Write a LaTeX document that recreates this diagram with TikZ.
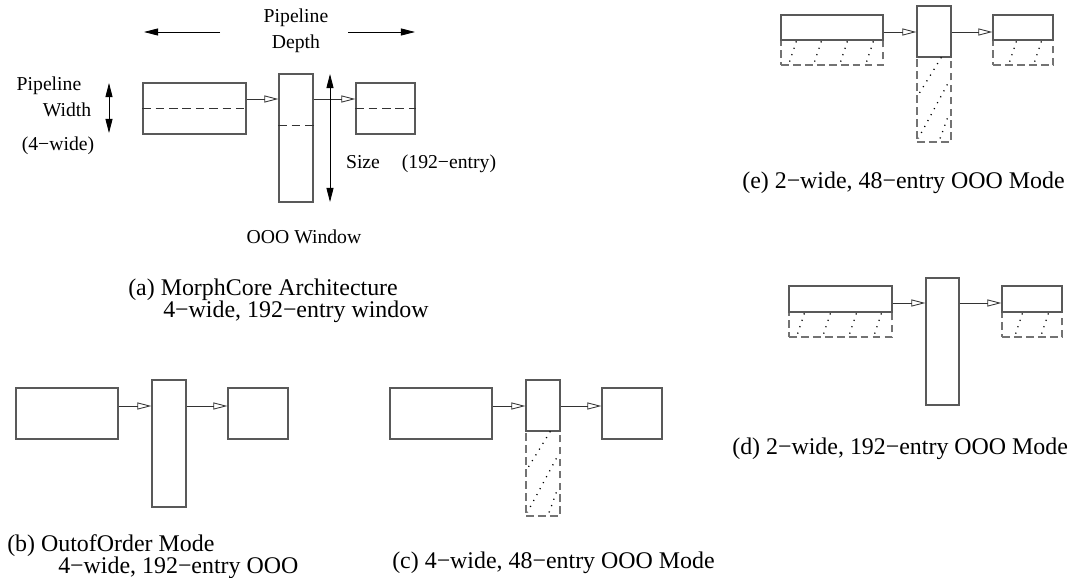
\documentclass[tikz,border=0pt]{standalone}
\usepackage{fontspec}
\setmainfont{Liberation Serif}
\usetikzlibrary{arrows.meta, positioning, fit, calc}

% dotted hatching inside the unused part of a window / a stage
\newcommand{\winhatch}[1]{%
  \begin{scope}[shift={(#1.north west)}]
    \draw[hatch] (25,1) -- (1,40);
    \draw[hatch] (31,28) -- (2,82);
    \draw[hatch] (31,62) -- (23,84);
  \end{scope}}
\newcommand{\barhatch}[2]{%
  \begin{scope}[shift={(#1.north west)}]
    \foreach \t in {#2} \draw[hatch] (\t,2) -- (\t-7,23);
  \end{scope}}

\begin{document}
\begin{tikzpicture}[x=0.025cm, y=-0.025cm,
    stage/.style={draw=black!65, line width=0.9pt, inner sep=0pt},
    ghost/.style={draw=black!55, line width=0.9pt, inner sep=0pt, dash pattern=on 5.5pt off 3pt},
    hatch/.style={black, line width=0.9pt, dash pattern=on 0.8pt off 4pt},
    split/.style={black!80, line width=0.7pt, dash pattern=on 6pt off 3.5pt},
    link/.style={-{Triangle[open, length=10pt, width=5pt]}, line width=0.6pt, black!80},
    dimone/.style={-{Triangle[length=10pt, width=5pt]}, line width=0.6pt},
    dimtwo/.style={{Triangle[length=10pt, width=5pt]}-{Triangle[length=10pt, width=5pt]}, line width=0.6pt},
    lbl/.style={font=\fontsize{14}{16}\selectfont, inner sep=0pt, anchor=base},
    captxt/.style={font=\fontsize{17}{20}\selectfont, inner sep=0pt, anchor=base west}
  ]
  \useasboundingbox (0,0) rectangle (1072,578);

  % (a) MorphCore
  \node[lbl] (depth1) at (296,23) {Pipeline};
  \node[lbl] (depth2) at (296,49) {Depth};
  \coordinate (dls) at (220,32);
  \coordinate (dle) at (144,32);
  \coordinate (drs) at (348,32);
  \coordinate (dre) at (415,32);
  \draw[dimone] (dls) -- (dle);
  \draw[dimone] (drs) -- (dre);

  \node[lbl] (pw1) at (49,91) {Pipeline};
  \node[lbl] (pw2) at (67,117) {Width};
  \node[lbl] (pw3) at (58,150) {(4−wide)};
  \coordinate (wtop) at (109,83);
  \coordinate (wbot) at (109,133);
  \draw[dimtwo] (wtop) -- (wbot);

  \node[stage, fit={(143,83) (246,134)}] (fa) {};
  \node[stage, fit={(279,74) (313,202)}] (wa) {};
  \node[stage, fit={(356,83) (415,134)}] (ra) {};
  \draw[split] (fa.west) -- (fa.east);
  \draw[split] (ra.west) -- (ra.east);
  \draw[split] ($(wa.north west)!0.4!(wa.south west)$) -- ($(wa.north east)!0.4!(wa.south east)$);
  \coordinate (ya) at (0,99);
  \draw[link] (fa.east |- ya) -- (wa.west |- ya);
  \draw[link] (wa.east |- ya) -- (ra.west |- ya);

  \coordinate (stop) at (330,74);
  \coordinate (sbot) at (330,202);
  \draw[dimtwo] (stop) -- (sbot);
  \node[lbl] (size) at (363,168) {Size};
  \node[lbl] (entries) at (449,168) {(192−entry)};
  \node[lbl] (oooa) at (304,243) {OOO Window};

  \node[captxt] (capa1) at (128,295) {(a) MorphCore Architecture};
  \node[captxt] (capa2) at (163,317) {4−wide, 192−entry window};

  % (b) out-of-order mode
  \node[stage, fit={(16,388) (118,439)}] (fb) {};
  \node[stage, fit={(152,380) (186,507)}] (wb) {};
  \node[stage, fit={(228,388) (288,439)}] (rb) {};
  \coordinate (yb) at (0,406);
  \draw[link] (fb.east |- yb) -- (wb.west |- yb);
  \draw[link] (wb.east |- yb) -- (rb.west |- yb);
  \node[captxt] (capb1) at (7,551) {(b) OutofOrder Mode};
  \node[captxt] (capb2) at (58,573) {4−wide, 192−entry OOO};

  % (c) 4-wide, 48-entry
  \node[stage, fit={(390,388) (492,439)}] (fc) {};
  \node[ghost, fit={(526,431) (560,516)}] (wcx) {};
  \node[stage, fit={(526,380) (560,431)}] (wc) {};
  \node[stage, fit={(602,388) (662,439)}] (rc) {};
  \winhatch{wcx}
  \draw[link] (fc.east |- yb) -- (wc.west |- yb);
  \draw[link] (wc.east |- yb) -- (rc.west |- yb);
  \node[captxt] (capc) at (392,568) {(c) 4−wide, 48−entry OOO Mode};

  % (d) 2-wide, 192-entry
  \node[ghost, fit={(789,312) (892,337)}] (fdx) {};
  \node[stage, fit={(789,286) (892,312)}] (fd) {};
  \node[stage, fit={(926,278) (959,405)}] (wd) {};
  \node[ghost, fit={(1002,312) (1062,337)}] (rdx) {};
  \node[stage, fit={(1002,286) (1062,312)}] (rd) {};
  \barhatch{fdx}{16,42,68,93}
  \barhatch{rdx}{21,47}
  \coordinate (yd) at (0,303);
  \draw[link] (fd.east |- yd) -- (wd.west |- yd);
  \draw[link] (wd.east |- yd) -- (rd.west |- yd);
  \node[captxt] (capd) at (732,454) {(d) 2−wide, 192−entry OOO Mode};

  % (e) 2-wide, 48-entry
  \node[ghost, fit={(781,40) (883,65)}] (fex) {};
  \node[stage, fit={(781,15) (883,40)}] (fe) {};
  \node[ghost, fit={(917,57) (951,142)}] (wex) {};
  \node[stage, fit={(917,6) (951,57)}] (we) {};
  \node[ghost, fit={(993,40) (1053,65)}] (rex) {};
  \node[stage, fit={(993,15) (1053,40)}] (re) {};
  \barhatch{fex}{16,41,67,93}
  \barhatch{rex}{24,49}
  \winhatch{wex}
  \coordinate (ye) at (0,32);
  \draw[link] (fe.east |- ye) -- (we.west |- ye);
  \draw[link] (we.east |- ye) -- (re.west |- ye);
  \node[captxt] (cape) at (742,188) {(e) 2−wide, 48−entry OOO Mode};
\end{tikzpicture}
\end{document}
